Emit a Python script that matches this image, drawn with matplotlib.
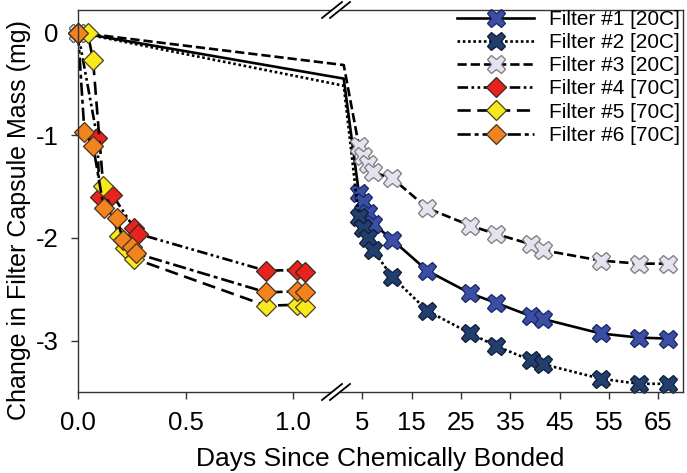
import numpy as np
import matplotlib
matplotlib.use("Agg")
from matplotlib import pyplot as plt

# data (days, mg)
days_20c = [0, 4.3, 5.2, 6.2, 7.2, 11.1, 18.2, 26.9, 32.0, 39.1, 41.7, 53.3, 61.0, 67.0]
filter1 = [0, -1.56, -1.65, -1.76, -1.86, -2.02, -2.32, -2.54, -2.63, -2.76, -2.79, -2.93, -2.97, -2.98]
filter2 = [0, -1.80, -1.90, -2.00, -2.12, -2.38, -2.71, -2.93, -3.05, -3.19, -3.23, -3.37, -3.42, -3.42]
filter3 = [0, -1.10, -1.20, -1.28, -1.36, -1.42, -1.71, -1.88, -1.96, -2.06, -2.12, -2.22, -2.25, -2.25]

days4 = [0, 0.09, 0.10, 0.16, 0.26, 0.28, 0.875, 1.02, 1.055]
filter4 = [0, -1.03, -1.60, -1.58, -1.90, -1.96, -2.32, -2.31, -2.33]
days5 = [0, 0.045, 0.07, 0.117, 0.19, 0.22, 0.26, 0.875, 1.02, 1.055]
filter5 = [0, 0.0, -0.27, -1.49, -1.98, -2.10, -2.20, -2.66, -2.65, -2.67]
days6 = [0, 0.03, 0.07, 0.12, 0.18, 0.21, 0.25, 0.27, 0.875, 1.02, 1.055]
filter6 = [0, -0.97, -1.10, -1.71, -1.81, -2.02, -2.09, -2.15, -2.53, -2.52, -2.53]

labels = ["Filter #1 [20C]", "Filter #2 [20C]", "Filter #3 [20C]",
          "Filter #4 [70C]", "Filter #5 [70C]", "Filter #6 [70C]"]

# broken x axis: 0-1.235 days on a wide scale, the rest compressed
BRK = 1.235
R = 4.93 / 215.0


def fwd(x):
    x = np.asarray(x, float)
    return np.where(x <= BRK, x, BRK + (x - BRK) * R)


def inv(u):
    u = np.asarray(u, float)
    return np.where(u <= BRK, u, BRK + (u - BRK) / R)


def with_break(x, y):
    # add the vertex where a straight segment crosses the scale break
    xs, ys, keep = [x[0]], [y[0]], [0]
    for i in range(1, len(x)):
        if x[i - 1] < BRK < x[i]:
            xs.append(BRK)
            ys.append(np.interp(BRK, [x[i - 1], x[i]], [y[i - 1], y[i]]))
        keep.append(len(xs))
        xs.append(x[i])
        ys.append(y[i])
    return xs, ys, keep


plt.rcParams['font.family'] = ['Liberation Sans', 'DejaVu Sans']
plt.rcParams['axes.unicode_minus'] = False

fig = plt.figure(figsize=(6.87, 4.73), dpi=100)
ax = fig.add_axes([78 / 687, 81 / 473, 605 / 687, 382 / 473])
ax.set_xscale('function', functions=(fwd, inv))

series = [
    (days_20c, filter1, '-', 'X', '#3b4ea6', '#1a275f', 13.5),
    (days_20c, filter2, (0, (1, 1)), 'X', '#223e6c', '#0f1d38', 13.5),
    (days_20c, filter3, (0, (3.5, 1.5)), 'X', '#e6e1f0', '#7a7a7a', 13.5),
    (days4, filter4, (0, (4, 1.3, 1, 1.3, 1, 1.3)), 'D', '#e8231e', '#3a2a20', 10.5),
    (days5, filter5, (0, (5, 2.5)), 'D', '#f6ea1c', '#4a4020', 10.5),
    (days6, filter6, (0, (5, 1.5, 1.5, 1.5)), 'D', '#f2841f', '#4a3020', 10.5),
]

for (x, y, ls, mk, fc, ec, ms), lab in zip(series, labels):
    xs, ys, keep = with_break(x, y)
    ax.plot(xs, ys, color='black', lw=1.9, linestyle=ls, marker=mk,
            markevery=keep, markersize=ms, markerfacecolor=fc,
            markeredgecolor=ec, markeredgewidth=0.9, label=lab, clip_on=False)

ax.set_xlim(0, 70)
ax.set_ylim(-3.5, 0.22)
ax.set_xticks([0, 0.5, 1.0, 5, 15, 25, 35, 45, 55, 65])
ax.set_xticklabels(["0.0", "0.5", "1.0", "5", "15", "25", "35", "45", "55", "65"])
ax.set_yticks([0, -1, -2, -3])
ax.set_yticklabels(["0", "-1", "-2", "-3"])
ax.tick_params(axis='both', labelsize=18.5, direction='out', length=5,
               width=1, color='#333333', pad=9)
for sp in ax.spines.values():
    sp.set_color('#333333')
    sp.set_linewidth(1)

ax.set_xlabel("Days Since Chemically Bonded", fontsize=19, labelpad=8)
ax.set_ylabel("Change in Filter Capsule Mass (mg)", fontsize=18)
ax.yaxis.set_label_coords(-0.078, 0.45)

# break marks on top and bottom spines
bx = (336 - 78) / 605.0
px, py = 1 / 605.0, 1 / 382.0
for y0 in (0, 1):
    ax.fill([bx - 9 * px, bx - 1 * px, bx + 9 * px, bx + 1 * px],
            [y0 - 8 * py, y0 - 8 * py, y0 + 8 * py, y0 + 8 * py],
            color='white', transform=ax.transAxes, clip_on=False, zorder=5)
    for dx in (-4, 4):
        ax.plot([bx + (dx - 10) * px, bx + (dx + 10) * px],
                [y0 - 8 * py, y0 + 8 * py], color='black', lw=1.3,
                transform=ax.transAxes, clip_on=False, zorder=6)

ax.legend(loc='upper right', bbox_to_anchor=(0.995, 1.0), frameon=False,
          fontsize=15, numpoints=1, handlelength=3.7, handletextpad=0.7,
          labelspacing=0.2, borderpad=0, borderaxespad=0)

fig.savefig("out.png", dpi=100)
